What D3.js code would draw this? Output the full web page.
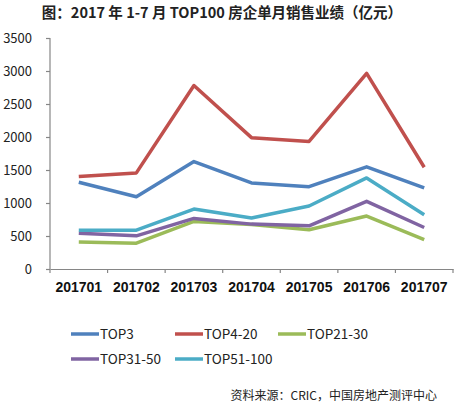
<!DOCTYPE html>
<html><head><meta charset="utf-8">
<script src="https://cdn.jsdelivr.net/npm/d3@7"></script>
<style>body{margin:0;background:#fff}svg{display:block}</style>
</head><body>
<svg id="c" width="455" height="402"></svg>
<script>
const months = ["201701","201702","201703","201704","201705","201706","201707"];
const seriesNames = ["TOP3","TOP4-20","TOP21-30","TOP31-50","TOP51-100"];
const top3 = [1315,1095,1628,1304,1248,1548,1228];
const top4_20 = [1400,1456,2780,1990,1933,2963,1542];
const top21_30 = [410,392,720,675,594,802,446];
const top31_50 = [543,502,766,680,654,1025,629];
const top51_100 = [589,589,908,772,954,1380,822];
const yTicks = [0,500,1000,1500,2000,2500,3000,3500];
const colors = ["#4F81BD","#C0504D","#9BBB59","#8064A2","#4BACC6"];
const seriesValues = [top3, top4_20, top21_30, top31_50, top51_100];

const svg = d3.select("#c");
const x = d3.scaleBand().domain(months).range([50, 453]);
const y = d3.scaleLinear().domain([0, 3500]).range([269, 38]);
const axisColor = "#868686";

svg.append("text").attr("x", 222).attr("y", 18).attr("text-anchor", "middle")
  .attr("font-family", "'Noto Sans CJK SC', sans-serif").attr("font-weight", "bold")
  .attr("font-size", 14.5).attr("fill", "#222")
  .text("图：2017 年 1-7 月 TOP100 房企单月销售业绩（亿元）");

const ya = svg.append("g").attr("transform", "translate(50,0)")
  .call(d3.axisLeft(y).tickValues(yTicks).tickSize(4).tickPadding(14).tickFormat(d3.format("d")));
ya.selectAll("path,line").attr("stroke", axisColor).attr("stroke-width", 1.2);
ya.select(".domain").attr("d", "M0,38V269");
ya.selectAll("text").attr("font-family", "'Noto Sans CJK SC', sans-serif").attr("font-size", 13).attr("fill", "#222");

const xa = svg.append("g").attr("transform", "translate(0,269)")
  .call(d3.axisBottom(x).tickSize(0).tickPadding(13));
xa.select(".domain").attr("stroke", axisColor).attr("stroke-width", 1.2);
xa.selectAll("text").attr("font-family", "'Liberation Sans', Arial, sans-serif").attr("font-weight", "bold").attr("font-size", 14).attr("fill", "#111");
const bounds = months.map(m => x(m)).concat([x.range()[1]]);
xa.selectAll(".sep").data(bounds).enter().append("line").attr("class","sep")
  .attr("x1", d => d).attr("x2", d => d).attr("y1", 0).attr("y2", 4)
  .attr("stroke", axisColor).attr("stroke-width", 1.2);

const line = d3.line().x((d, i) => x(months[i]) + x.bandwidth() / 2).y(d => y(d));
seriesValues.forEach((vals, k) => {
  svg.append("path").datum(vals).attr("d", line).attr("fill", "none")
    .attr("stroke", colors[k]).attr("stroke-width", 3.5).attr("stroke-linejoin", "round");
});

const legPos = [[71,334],[175,334],[278,334],[71,359],[175,359]];
seriesNames.forEach((n, k) => {
  const [lx, ly] = legPos[k];
  svg.append("line").attr("x1", lx).attr("x2", lx + 28).attr("y1", ly).attr("y2", ly)
    .attr("stroke", colors[k]).attr("stroke-width", 3.5);
  svg.append("text").attr("x", lx + 29).attr("y", ly + 5)
    .attr("font-family", "'Noto Sans CJK SC', sans-serif").attr("font-size", 13.5).attr("fill", "#222").text(n);
});

svg.append("text").attr("x", 437).attr("y", 400).attr("text-anchor", "end")
  .attr("font-family", "'Noto Sans CJK SC', sans-serif").attr("font-size", 12).attr("fill", "#222")
  .text("资料来源：CRIC，中国房地产测评中心");
</script>
</body></html>
